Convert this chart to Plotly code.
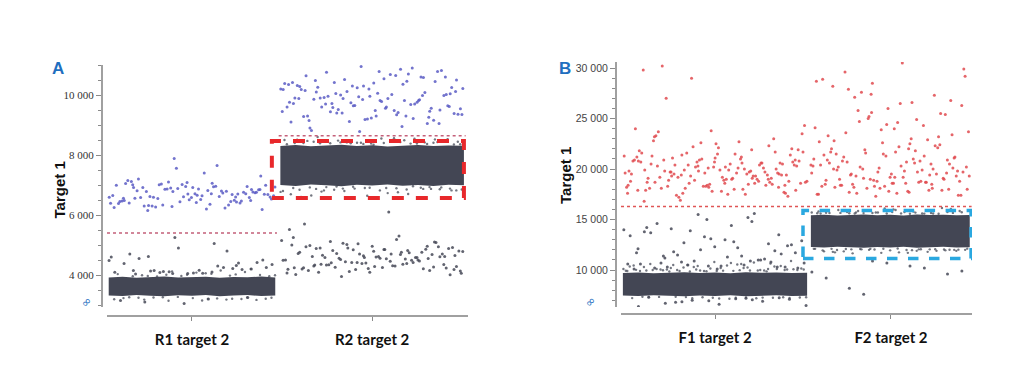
import numpy as np
import plotly.graph_objects as go

# ---------------- DATA ----------------
wells_A = ["R1 target 2", "R2 target 2"]
wells_B = ["F1 target 2", "F2 target 2"]
yticks_A = [4000, 6000, 8000, 10000]
yticks_B = [10000, 15000, 20000, 25000, 30000]
threshold_A = [5400, 8640]          # per well
threshold_B = [16300, 16300]

# Panel A, well R1: positive (blue) droplets
A_R1_pos = [6850,6420,7010,6600,6280,6930,6710,6150,6480,7080,
            6560,6790,6330,6990,6640,7200,6470,6880,6250,7650,
            6590,6760,6920,6400,6680,7100,6530,6820,6300,6950,
            6610,6450,6730,7010,6180,6870,6560,6700,7880,6390,
            6940,6620,6770,6510,7050,6330,6860,6680,7400,6580,
            6760,6440,6990,6620,6270,6840,6710,7120,6490,6900,
            6640,6360,6780,6580,6950,6470,6230,7030,6690,6520,
            6810,6400,7560,6650,6960,6300,6740,6580,7150,6450,
            6870,6600,6200,6920,6710,7020,6380,6800,6550,7300,
            6660,6920,6430,6780,6590,7060,6320,6850,6700,6480]
# Panel A, well R1: negative droplets outside the dense band
A_R1_neg = [4150,4320,4050,4480,4100,4620,4200,4050,4380,4800,
            4120,4250,4060,4550,4180,4900,4090,4300,4150,4420,
            4070,4700,4220,4110,4350,3200,3100,3250,3050,3150,
            4250,4080,4500,4160,4030,4400,5250,4600,5050,4130]
A_R1_fringe = [3980,4010,3960,4060,3990,4100,3970,4030,4150,3950,
               4000,4080,3960,4020,4120,3990,4040,3970,4200,4010,
               3230,3180,3260,3210,3150,3240,3200,3270,3190,3220,
               3250,3170,3230,3260,3210,3140,3240,3200,3180,3250]
A_R1_band_top = [3920,3940,3905,3935,3950,3915,3930,3945,3910,3935,3925,3950,3920]
A_R1_band_bot = [3320,3300,3335,3310,3290,3325,3305,3330,3295,3315,3330,3300,3320]

# Panel A, well R2
A_R2_pos = [9850,10420,9300,10050,9620,10780,9150,9980,10300,9450,
            10650,9700,9050,10200,9880,10900,9400,10120,9560,10480,
            9260,9940,10350,8950,9720,10600,9480,10150,9820,11050,
            9350,10020,9600,10450,9180,9900,10700,9520,10250,9780,
            8820,10080,9650,10380,9420,9960,10820,9230,10180,9700,
            10520,9360,9880,10260,9560,10950,9100,9820,10420,9640,
            10060,9300,10600,9740,10200,9480,9920,10780,9200,10320,
            9680,10000,9380,10540,9860,9050,10240,9600,10860,9440,
            9980,10400,9280,9760,10120,9540,10680,9900,9160,10300,
            9720,10460,9400,10040,9820,8900,10580,9640,10180,9340,
            10760,9500,9960,10280,9220,9880,10500,9600,10100,9460,
            8780,9760,10360,9580,10020,9300,10640,9840,9120,10220]
A_R2_low = [4520,4180,4850,4300,4960,4420,4070,4680,5120,4350,
            4790,4240,4580,5020,4130,4460,4900,4270,4640,5250,
            4380,4720,4010,4560,4980,4210,4840,4490,5180,4330,
            4610,4090,4760,4420,5060,4280,4540,4880,4150,4700,
            5520,4360,4820,4230,4600,4940,4470,4120,4780,4310,
            4660,5080,4400,4020,4740,4560,4920,4250,4620,4860,
            4180,4500,5300,4340,4700,4960,4200,4580,4440,4800,
            6100,4090,4680,4380,5000,4530,4260,4880,4620,4150,
            4760,4420,5150,4300,4580,4940,4220,4720,4490,3950,
            4650,4850,4330,4550,5040,4190,4760,4410,4620,4280,
            5700,4500,4900,4060,4700,4360,5100,4580,4240,4820]
A_R2_fringe = [6850,8450,6780,8520,6900,8400,6700,8480,6820,8550,
               6650,8420,6880,8500,6760,8460,6920,8380,6600,8540,
               6800,8440,6730,8600,6870,8410,6690,8490,6840,8530,
               6550,8470,6910,8390,6770,8560,6820,8430,6640,8510,
               8380,8420,8350,8400,8440,8370,8410,8360,8430,8390,
               8450,8340,8400,8380,8420,8360,8440,8390,8410,8370,
               6900,6850,6950,6880,6820,6920,6870,6940,6800,6890,
               6930,6860,6910,6840,6960,6880,6820,6900,6870,6930]
A_R2_band_top = [8300,8330,8290,8320,8340,8300,8325,8285,8315,8335,8300,8320,8310]
A_R2_band_bot = [7000,6970,7020,6990,6960,7010,6980,7015,6975,7000,6965,7010,6990]

# Panel B, well F1
B_F1_pos = [19500,18200,20800,19100,21400,17900,20200,18700,22300,19800,
            18400,20600,19300,17600,21100,19900,18800,20400,23500,19000,
            18100,21700,19600,20900,18500,19200,22000,17800,20500,19700,
            18900,21300,20100,18300,19400,23800,20700,18600,19900,21900,
            17500,20300,19100,22600,18800,20000,19500,17300,21500,18700,
            20600,19300,24300,18000,20900,19600,18400,21200,19800,16900,
            20400,18900,22800,19400,20700,18200,21000,19700,17700,20200,
            29800,19000,21600,18600,20500,19200,23000,18300,20800,19500,
            17400,21400,19900,18100,20100,22200,18800,19600,27000,20600,
            18500,21800,19300,17600,20300,19000,23300,18700,20900,19800,
            18000,21100,19400,22500,17900,20400,18600,21700,19100,30200,
            20000,18300,24000,19700,17200,20700,19200,21300,18400,20200,
            19600,22700,18900,20500,17800,21600,19300,18100,20800,19900,
            23700,18500,21000,19500,17500,20400,18800,22100,19100,20600,
            29000,18700,21500,19800,18200,20100,17900,21900,19400,20900,
            18600,23200,19000,20300,17600,21200,19700,18400,20700,16800]
B_F1_mid = [11200,13500,10400,12100,14800,10800,11700,13000,10200,12600,
            15500,10600,11400,14100,10300,12300,13800,11000,10500,12900,
            14400,10700,11900,13300,10100,15200,11500,12500,10400,13700,
            11100,10900,14000,12200,10300,11600,13100,10600,15600,12700,
            10200,11300,14600,10800,12000,13400,10500,11800,12400,10100,
            14200,11000,13900,10700,12800,11400,10300,15000,11700,10900]
B_F1_fringe = [10100,10400,9900,10600,10200,10000,10800,10300,9950,10500,
               10150,10700,10050,10350,9900,10450,10250,10000,10900,10200,
               10600,9950,10300,10100,10550,10050,10400,10150,9900,10750,
               10250,10000,10450,10100,10650,9950,10350,10200,10500,10050,
               9900,9950,10000,9850,10050,9920,9980,10100,9880,10020,
               9960,9900,10080,9940,10010,9870,10060,9930,9990,9860,
               7300,7250,7350,7200,7320,7280,7150,7340,7260,7310,
               7220,7290,7360,7240,7180,7330,7270,7210,7300,7260]
B_F1_below = [7200,6800,7100,6600,7300,6900,7000,6500,7150,6700,7250,6950,6400,7050,6850]
B_F1_band_top = [9700,9760,9680,9740,9790,9710,9750,9690,9770,9720,9760,9700,9740]
B_F1_band_bot = [7480,7420,7510,7450,7400,7490,7440,7500,7410,7470,7500,7430,7460]

# Panel B, well F2
B_F2_pos = [19200,22800,18100,25600,20400,17700,27900,19600,21300,18500,
            24300,20000,17400,26500,19000,22100,18800,28700,20600,18200,
            23400,19500,21700,17900,25000,20200,18600,29600,19100,22600,
            18300,20800,24700,19800,17600,21500,27300,18900,20300,23000,
            19400,18000,26000,20900,18700,21900,19700,30500,18400,22400,
            20100,17500,24900,19300,21100,18600,28200,20500,19000,23700,
            17800,20700,25400,18300,21400,19900,27600,18800,22200,20200,
            19500,17300,24100,21000,18500,26800,19200,20600,22900,18100,
            29200,19800,21200,17900,23900,20400,18700,25800,19300,21700,
            18200,20000,28500,19600,22500,17700,20900,24400,18900,21300,
            19100,26300,20300,18400,23200,19700,17500,21800,27100,20100,
            18600,22000,19400,25200,18000,20700,23600,19000,21500,28900,
            18800,20200,17400,24600,19900,22300,18300,21000,26600,19500,
            20500,17800,23300,18700,21600,29900,19200,20800,25500,18100,
            22700,19700,17600,21200,24000,20000,18500,27400,19300,22000]
B_F2_fringe = [15800,11900,15700,12000,16000,11800,15650,12100,15900,11700,
               15750,11950,16100,11850,15600,12050,15850,11750,15950,11900,
               15700,12100,15800,11650,16050,11950,15650,11800,15900,12000,
               15750,11850,16150,11700,15600,12050,15850,11900,15950,11750,
               15600,15650,15700,15580,15620,15750,15600,15680,15590,15640,
               15720,15610,15660,15570,15700,15630,15690,15600,15660,15740,
               12100,12050,12000,12120,11980,12080,12030,12110,11950,12060,
               12090,12020,12130,11990,12070,12040,12100,11970,12050,12010]
B_F2_low = [10900,9800,10400,8200,9600,10700,9200,10200,7600,9900]
B_F2_band_top = [15420,15480,15400,15460,15500,15430,15470,15410,15490,15440,15470,15420,15450]
B_F2_band_bot = [12280,12220,12310,12250,12200,12290,12240,12300,12210,12270,12300,12230,12260]

# gate boxes (y-range)
box_A = dict(y0=6570, y1=8470)
box_B = dict(y0=11140, y1=15890)

# ---------------- STYLE / LAYOUT ----------------
BLUE = "#5a5cc4"
RED = "#e04a4f"
GREY = "#464957"
BAND = "#434654"

# page has an 8px body margin; figure is sized so it fits the window
OFF = 8
W, H = 1024 - OFF, 368 - OFF
px = lambda x: (x - OFF) / W
py = lambda y: 1 - (y - OFF) / H

# well extents in axis units
wellA = [(-0.49, 0.49), (0.52, 1.60)]
wellB = [(-0.49, 0.49), (0.51, 1.355)]
PHI = 0.6180339887

fig = go.Figure()


def spread(n, well, phase):
    # place the n droplets of a well across its width (low-discrepancy order, deterministic)
    frac = (np.arange(1, n + 1) * PHI + phase) % 1.0
    return well[0] + (well[1] - well[0]) * frac


def pts(vals, well, color, xa, ya, phase, size=3.0, op=0.85):
    fig.add_trace(go.Scatter(x=spread(len(vals), well, phase), y=vals, mode="markers",
                             xaxis=xa, yaxis=ya,
                             marker=dict(color=color, size=size, opacity=op, line=dict(width=0)),
                             showlegend=False, hoverinfo="skip"))


def band(top, bot, well, xa, ya):
    x = np.linspace(well[0], well[1], len(top))
    xs = list(x) + list(x[::-1])
    ys = list(top) + list(bot[::-1])
    fig.add_trace(go.Scatter(x=xs, y=ys, mode="lines", fill="toself", fillcolor=BAND,
                             line=dict(width=0, color=BAND), xaxis=xa, yaxis=ya,
                             showlegend=False, hoverinfo="skip"))


def thr(val, well, color, xa, ya):
    fig.add_trace(go.Scatter(x=[well[0] - 0.01, well[1] + 0.01], y=[val, val], mode="lines",
                             line=dict(color=color, width=1.5, dash="dot"),
                             xaxis=xa, yaxis=ya, showlegend=False, hoverinfo="skip"))


# Panel A
band(A_R1_band_top, A_R1_band_bot, wellA[0], "x", "y")
band(A_R2_band_top, A_R2_band_bot, wellA[1], "x", "y")
pts(A_R1_fringe, wellA[0], GREY, "x", "y", 0.11, size=2.4, op=0.75)
pts(A_R2_fringe, wellA[1], GREY, "x", "y", 0.37, size=2.4, op=0.75)
pts(A_R1_neg, wellA[0], GREY, "x", "y", 0.53)
pts(A_R2_low, wellA[1], GREY, "x", "y", 0.71)
pts(A_R1_pos, wellA[0], BLUE, "x", "y", 0.29)
pts(A_R2_pos, wellA[1], BLUE, "x", "y", 0.83)
thr(threshold_A[0], wellA[0], "#c4607a", "x", "y")
thr(threshold_A[1], wellA[1], "#c4607a", "x", "y")

# Panel B
band(B_F1_band_top, B_F1_band_bot, wellB[0], "x2", "y2")
band(B_F2_band_top, B_F2_band_bot, wellB[1], "x2", "y2")
pts(B_F1_fringe, wellB[0], GREY, "x2", "y2", 0.17, size=2.4, op=0.75)
pts(B_F2_fringe, wellB[1], GREY, "x2", "y2", 0.43, size=2.4, op=0.75)
pts(B_F1_mid, wellB[0], GREY, "x2", "y2", 0.61)
pts(B_F1_below, wellB[0], GREY, "x2", "y2", 0.05)
pts(B_F2_low, wellB[1], GREY, "x2", "y2", 0.77)
pts(B_F1_pos, wellB[0], RED, "x2", "y2", 0.23)
pts(B_F2_pos, wellB[1], RED, "x2", "y2", 0.91)
thr(threshold_B[0], (wellB[0][0], wellB[1][1]), "#e05555", "x2", "y2")

fmt = lambda v: f"{v:,}".replace(",", " ")

axis_line = dict(showline=True, linecolor="#a0a0a0", linewidth=2, ticks="outside",
                 tickcolor="#8a8a8a", showgrid=False, zeroline=False)

xlabel_font = dict(family="Lato, Open Sans, sans-serif", size=15, color="#111")

fig.update_layout(
    width=W, height=H, margin=dict(l=0, r=0, t=0, b=0),
    paper_bgcolor="white", plot_bgcolor="white",
    xaxis=dict(domain=[px(107), px(468)], range=[-0.5, 1.624], anchor="free", position=py(316),
               tickvals=[0, 1.06], ticktext=[f"<b>{w}</b>" for w in wells_A], ticklen=4,
               tickfont=xlabel_font, ticklabelstandoff=6, **axis_line),
    yaxis=dict(domain=[py(306.5), py(65)], range=[2950, 11000], anchor="free", position=px(102),
               tickvals=yticks_A, ticktext=[fmt(v) for v in yticks_A], ticklen=5,
               tickfont=dict(family="Liberation Serif", size=11, color="#333"),
               minor=dict(tick0=0, dtick=500, ticks="outside", ticklen=3, tickcolor="#8a8a8a"),
               **axis_line),
    xaxis2=dict(domain=[px(621), px(972)], range=[-0.5, 1.367], anchor="free", position=py(314),
                tickvals=[0, 0.936], ticktext=[f"<b>{w}</b>" for w in wells_B], ticklen=4,
                tickfont=xlabel_font, ticklabelstandoff=6, **axis_line),
    yaxis2=dict(domain=[py(307), py(62)], range=[6340, 30600], anchor="free", position=px(616),
                tickvals=yticks_B, ticktext=[fmt(v) for v in yticks_B], ticklen=5,
                tickfont=dict(family="Liberation Sans Narrow, Liberation Sans", size=10.5, color="#444"),
                minor=dict(tick0=0, dtick=1000, ticks="outside", ticklen=3, tickcolor="#8a8a8a"),
                **axis_line),
)

# gate boxes
fig.add_shape(type="rect", xref="x", yref="y", x0=0.47, x1=1.6, y0=box_A["y0"], y1=box_A["y1"],
              line=dict(color="#e8282b", width=4, dash="dash"))
fig.add_shape(type="rect", xref="x2", yref="y2", x0=0.468, x1=1.362, y0=box_B["y0"], y1=box_B["y1"],
              line=dict(color="#2aa8e0", width=3.5, dash="dash"))

# titles / labels
for xp, yp, letter in [(50, 57, "A"), (565, 57, "B")]:
    fig.add_annotation(x=px(xp), y=py(yp), xref="paper", yref="paper", text=f"<b>{letter}</b>",
                       showarrow=False, font=dict(family="Liberation Sans", size=17, color="#1f6fbf"))
for xp, yp in [(48, 190), (565, 176)]:
    fig.add_annotation(x=px(xp), y=py(yp), xref="paper", yref="paper", text="<b>Target 1</b>",
                       textangle=-90, showarrow=False,
                       font=dict(family="Liberation Sans", size=15, color="#111"))
for xp, yp in [(75, 313), (590, 313)]:
    fig.add_annotation(x=px(xp), y=py(yp), xref="paper", yref="paper", text="∞",
                       textangle=-45, showarrow=False,
                       font=dict(family="DejaVu Sans", size=12, color="#1f6fbf"))

fig.write_html("out.html")
